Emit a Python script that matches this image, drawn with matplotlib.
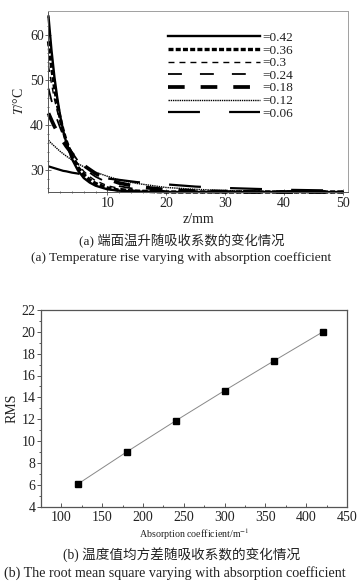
import matplotlib
matplotlib.use('Agg')
import matplotlib.pyplot as plt
from matplotlib.ticker import MultipleLocator

plt.rcParams['font.family'] = ['Liberation Serif', 'Noto Sans CJK SC']
plt.rcParams['mathtext.fontset'] = 'stix'
plt.rcParams['lines.scale_dashes'] = False

# ---------------- data (a) ----------------
z_mm = [0, 0.5, 1, 1.5, 2, 2.5, 3, 4, 5, 6, 7, 8, 10, 12, 15, 20, 25, 30, 35, 40, 45, 50]
coef_labels = ['=0.42', '=0.36', '=0.3', '=0.24', '=0.18', '=0.12', '=0.06']
T_042 = [64.0, 56.6, 50.6, 45.8, 41.8, 38.6, 36.1, 32.3, 29.8, 28.1, 27.1, 26.4, 25.6, 25.3, 25.1, 25.0, 25.0, 25.0, 25.0, 25.0, 25.0, 25.0]
T_036 = [58.5, 53.0, 48.4, 44.5, 41.3, 38.6, 36.4, 32.9, 30.5, 28.9, 27.7, 26.9, 25.9, 25.4, 25.2, 25.0, 25.0, 25.0, 25.0, 25.0, 25.0, 25.0]
T_030 = [53.0, 49.1, 45.7, 42.9, 40.4, 38.2, 36.4, 33.4, 31.2, 29.6, 28.4, 27.5, 26.4, 25.8, 25.3, 25.1, 25.0, 25.0, 25.0, 25.0, 25.0, 25.0]
T_024 = [48.0, 45.4, 43.1, 41.0, 39.2, 37.6, 36.2, 33.8, 31.9, 30.4, 29.3, 28.4, 27.1, 26.3, 25.6, 25.2, 25.1, 25.0, 25.0, 25.0, 25.0, 25.0]
T_018 = [42.5, 41.0, 39.6, 38.4, 37.2, 36.2, 35.2, 33.5, 32.1, 30.9, 30.0, 29.1, 27.9, 27.0, 26.2, 25.5, 25.2, 25.1, 25.0, 25.0, 25.0, 25.0]
T_012 = [36.5, 35.8, 35.2, 34.6, 34.0, 33.5, 33.0, 32.1, 31.3, 30.6, 30.0, 29.4, 28.5, 27.7, 26.9, 26.0, 25.6, 25.3, 25.2, 25.1, 25.0, 25.0]
T_006 = [30.7, 30.5, 30.3, 30.1, 29.9, 29.7, 29.6, 29.3, 29.1, 28.8, 28.6, 28.4, 28.0, 27.7, 27.2, 26.7, 26.2, 25.9, 25.7, 25.5, 25.4, 25.3]

# ---------------- data (b) ----------------
absorption = [120, 180, 240, 300, 360, 420]
rms = [6.05, 9.0, 11.85, 14.62, 17.32, 19.98]

# styles: (linewidth pt, dash pattern or None)
styles = [
    (1.7, None),
    (2.4, (3.6, 1.6)),
    (1.0, (4.3, 3.6)),
    (1.3, (10.0, 13.0)),
    (2.7, (12.0, 11.5)),
    (1.0, (1.0, 0.6)),
    (1.6, (23.0, 21.0)),
]
series = [T_042, T_036, T_030, T_024, T_018, T_012, T_006]

fig = plt.figure(figsize=(3.63, 5.87), dpi=100)

# ---------- top plot ----------
ax1 = fig.add_axes([48.5 / 363, 1 - 192 / 587, (347.5 - 48.5) / 363, (192 - 10.7) / 587])
for T, lab, (lw, dash) in zip(series, coef_labels, styles):
    line, = ax1.plot(z_mm, T, color='black', lw=lw, label=lab, clip_on=False,
                     solid_joinstyle='round')
    if dash is not None:
        line.set_dashes(dash)
ax1.set_xlim(0, 50.8)
ax1.set_ylim(25, 65.3)
ax1.xaxis.set_major_locator(MultipleLocator(10))
ax1.xaxis.set_minor_locator(MultipleLocator(2))
ax1.yaxis.set_major_locator(MultipleLocator(10))
ax1.yaxis.set_minor_locator(MultipleLocator(2))
ax1.set_xticks([10, 20, 30, 40, 50])
ax1.set_yticks([30, 40, 50, 60])
for s in ['top', 'right']:
    ax1.spines[s].set_color('#a0a0a0')
    ax1.spines[s].set_linewidth(0.7)
for s in ['left', 'bottom']:
    ax1.spines[s].set_color('#555555')
    ax1.spines[s].set_linewidth(0.7)
ax1.tick_params(which='both', direction='inout', color='#555555', width=0.6,
                labelsize=10, labelcolor='#222222')
ax1.tick_params(which='major', length=4)
ax1.tick_params(which='minor', length=2)
ax1.tick_params(axis='x', pad=1.5)
ax1.tick_params(axis='y', pad=1.5)
ax1.set_xlabel('z/mm', fontsize=10, labelpad=2.5, color='#222222')
ax1.set_ylabel('$\\mathit{T}$/°C', fontsize=10, labelpad=3, color='#222222')
leg = ax1.legend(loc='upper left', bbox_to_anchor=(0.398, 0.884), frameon=False,
                 fontsize=9.5, handlelength=7.0, handletextpad=0.2,
                 labelspacing=0.03, borderpad=0, borderaxespad=0)
for t in leg.get_texts():
    t.set_color('#222222')

fig.text(0.5, 1 - 241 / 587, '(a) 端面温升随吸收系数的变化情况', ha='center', va='center',
         fontsize=9.6, color='#222222')
fig.text(0.5, 1 - 258 / 587, '(a) Temperature rise varying with absorption coefficient',
         ha='center', va='center', fontsize=9.6, color='#222222')

# ---------- bottom plot ----------
ax2 = fig.add_axes([41 / 363, 1 - 506.5 / 587, (347 - 41) / 363, (506.5 - 310) / 587])
ax2.plot(absorption, rms, color='#888888', lw=0.7, marker='s', markersize=3.8,
         markerfacecolor='black', markeredgecolor='black')
ax2.set_xlim(75, 450)
ax2.set_ylim(4, 22)
ax2.xaxis.set_major_locator(MultipleLocator(50))
ax2.xaxis.set_minor_locator(MultipleLocator(25))
ax2.yaxis.set_major_locator(MultipleLocator(2))
ax2.yaxis.set_minor_locator(MultipleLocator(1))
for s in ax2.spines.values():
    s.set_color('#555555')
    s.set_linewidth(0.9)
ax2.tick_params(axis='x', which='both', direction='in', color='#555555', width=0.7,
                labelsize=10, labelcolor='#222222', pad=3.5)
ax2.tick_params(axis='y', which='both', direction='out', color='#555555', width=0.7,
                labelsize=10, labelcolor='#222222', pad=1)
ax2.tick_params(which='major', length=3)
ax2.tick_params(which='minor', length=1.8)
ax2.set_xlabel('Absorption coefficient/m$^{-1}$', fontsize=7.2, labelpad=1.5, color='#222222')
ax2.set_ylabel('RMS', fontsize=10, labelpad=2, color='#222222')

fig.text(0.5, 1 - 555 / 587, '(b) 温度值均方差随吸收系数的变化情况', ha='center', va='center',
         fontsize=9.8, color='#222222')
fig.text(175 / 363, 1 - 573 / 587, '(b) The root mean square varying with absorption coefficient',
         ha='center', va='center', fontsize=10.1, color='#222222')

fig.savefig('out.png', dpi=100)
